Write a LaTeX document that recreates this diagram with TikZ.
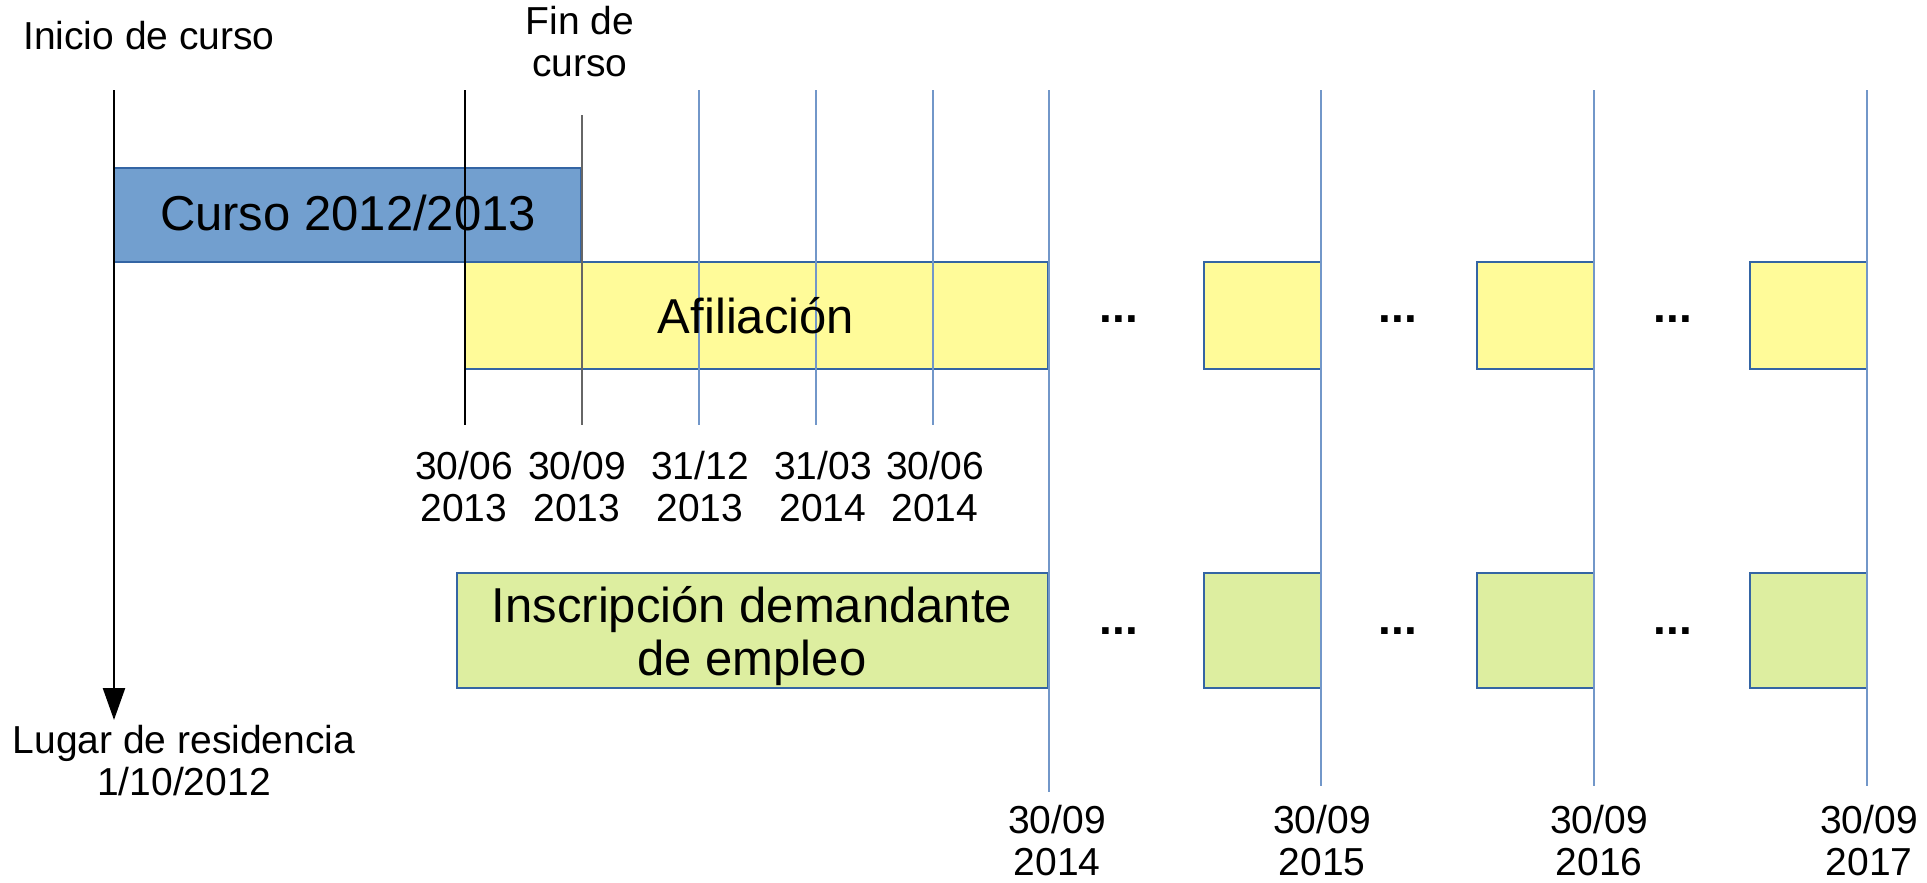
\documentclass[tikz,border=0pt]{standalone}
\usepackage{fontspec}
\setmainfont{Liberation Sans}
\usetikzlibrary{arrows.meta}
\definecolor{cursoblue}{HTML}{729FCF}
\definecolor{boxedge}{HTML}{3465A4}
\definecolor{afilyellow}{HTML}{FFFB99}
\definecolor{inscgreen}{HTML}{DDEEA0}
\definecolor{gridblue}{HTML}{7297C9}
\definecolor{midgray}{HTML}{666666}
\begin{document}
\begin{tikzpicture}[x=1pt,y=-1pt,
  boxbase/.style={draw=boxedge, line width=1.5pt, inner sep=0pt, outer sep=0pt, anchor=north west},
  cursobox/.style={boxbase, fill=cursoblue},
  afilbox/.style={boxbase, fill=afilyellow},
  inscbox/.style={boxbase, fill=inscgreen},
  bigtxt/.style={font=\fontsize{49}{53}\selectfont, align=center, inner sep=0pt, anchor=base},
  smalltxt/.style={font=\fontsize{39}{42}\selectfont, align=center, inner sep=0pt, anchor=base},
  dotstxt/.style={font=\fontsize{46}{50}\selectfont\bfseries, inner sep=0pt, anchor=base},
  blackline/.style={line width=2.4pt, black},
  grayline/.style={line width=2.4pt, midgray},
  blueline/.style={line width=2.4pt, gridblue}
]
\useasboundingbox (0,0) rectangle (1927,883);

% boxes
\node[cursobox, minimum width=467pt, minimum height=94pt] (curso) at (114,168) {};
\node[afilbox, minimum width=583pt, minimum height=107pt] (afil) at (465,262) {};
\node[afilbox, minimum width=117pt, minimum height=107pt] (afilA) at (1204,262) {};
\node[afilbox, minimum width=117pt, minimum height=107pt] (afilB) at (1477,262) {};
\node[afilbox, minimum width=117pt, minimum height=107pt] (afilC) at (1750,262) {};
\node[inscbox, minimum width=591pt, minimum height=115pt] (insc) at (457,573) {};
\node[inscbox, minimum width=117pt, minimum height=115pt] (inscA) at (1204,573) {};
\node[inscbox, minimum width=117pt, minimum height=115pt] (inscB) at (1477,573) {};
\node[inscbox, minimum width=117pt, minimum height=115pt] (inscC) at (1750,573) {};

% line end points
\coordinate (iniT) at (114,90);
\coordinate (iniB) at (114,720);
\coordinate (l1T) at (465,90);   \coordinate (l1B) at (465,425);
\coordinate (l2T) at (582,115);  \coordinate (l2B) at (582,425);
\coordinate (l3T) at (699,90);   \coordinate (l3B) at (699,425);
\coordinate (l4T) at (816,90);   \coordinate (l4B) at (816,425);
\coordinate (l5T) at (933,90);   \coordinate (l5B) at (933,425);
\coordinate (y1T) at (1049,90);  \coordinate (y1B) at (1049,792);
\coordinate (y2T) at (1321,90);  \coordinate (y2B) at (1321,786);
\coordinate (y3T) at (1594,90);  \coordinate (y3B) at (1594,786);
\coordinate (y4T) at (1867,90);  \coordinate (y4B) at (1867,786);

% lines
\draw[blackline, -{Triangle[length=32pt,width=22pt]}] (iniT) -- (iniB);
\draw[blackline] (l1T) -- (l1B);
\draw[grayline] (l2T) -- (l2B);
\draw[blueline] (l3T) -- (l3B);
\draw[blueline] (l4T) -- (l4B);
\draw[blueline] (l5T) -- (l5B);
\draw[blueline] (y1T) -- (y1B);
\draw[blueline] (y2T) -- (y2B);
\draw[blueline] (y3T) -- (y3B);
\draw[blueline] (y4T) -- (y4B);

% box texts
\node[bigtxt] (tcurso) at (348,230) {Curso 2012/2013};
\node[bigtxt] (tafil) at (756,333) {Afiliación};
\node[bigtxt] (tinsc) at (752,675) {Inscripción demandante\\de empleo};

% dots
\node[dotstxt] (d1) at (1119,322) {...};
\node[dotstxt] (d2) at (1398,322) {...};
\node[dotstxt] (d3) at (1673,322) {...};
\node[dotstxt] (d4) at (1119,634) {...};
\node[dotstxt] (d5) at (1398,634) {...};
\node[dotstxt] (d6) at (1673,634) {...};

% labels
\node[smalltxt] (tini) at (149,50) {Inicio de curso};
\node[smalltxt] (tfin) at (580,77) {Fin de\\curso};
\node[smalltxt] (tlugar) at (184,795) {Lugar de residencia\\1/10/2012};

\node[smalltxt] (dA) at (464,521) {30/06\\2013};
\node[smalltxt] (dB) at (577,521) {30/09\\2013};
\node[smalltxt] (dC) at (700,521) {31/12\\2013};
\node[smalltxt] (dD) at (823,521) {31/03\\2014};
\node[smalltxt] (dE) at (935,521) {30/06\\2014};

\node[smalltxt] (bA) at (1057,875) {30/09\\2014};
\node[smalltxt] (bB) at (1322,875) {30/09\\2015};
\node[smalltxt] (bC) at (1599,875) {30/09\\2016};
\node[smalltxt] (bD) at (1869,875) {30/09\\2017};
\end{tikzpicture}
\end{document}
